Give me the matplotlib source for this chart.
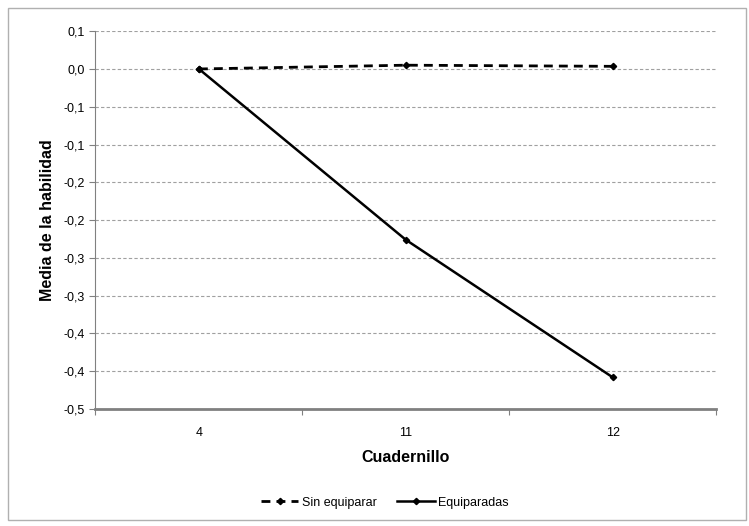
import math
import matplotlib
matplotlib.use("Agg")
import matplotlib.pyplot as plt
import numpy as np
from matplotlib.patches import Rectangle
from matplotlib.ticker import FuncFormatter

plt.rcParams['font.family'] = ['Liberation Sans', 'DejaVu Sans']

# Media de la habilidad por cuadernillo
cuadernillos = ["4", "11", "12"]
sin_equiparar = [0.000, 0.005, 0.0035]
equiparadas = [0.000, -0.226, -0.408]


def fmt_coma(v, pos):
    # redondeo a un decimal (mitad hacia fuera) y coma decimal
    r = math.copysign(math.floor(abs(v) * 10 + 0.5 + 1e-9) / 10, v)
    if abs(r) < 1e-12:
        r = 0.0
    return f"{r:.1f}".replace(".", ",")


fig = plt.figure(figsize=(7.49, 5.26), dpi=100)
ax = fig.add_axes([0.1275, 0.2224, 0.8285, 0.7183])

x = np.arange(len(cuadernillos))
ax.plot(x, sin_equiparar, color="black", lw=2.0, ls=(0, (3.2, 2.2)),
        marker="D", ms=3.2, label="Sin equiparar")
ax.plot(x, equiparadas, color="black", lw=1.8, ls="-",
        marker="D", ms=3.2, label="Equiparadas")

ax.set_xlim(-0.5, 2.5)
ax.set_ylim(-0.45, 0.05)
ax.set_yticks(np.arange(-0.45, 0.0501, 0.05))
ax.yaxis.set_major_formatter(FuncFormatter(fmt_coma))
ax.grid(axis="y", color="#a0a0a0", ls=(0, (3, 2)), lw=0.8)
ax.set_axisbelow(True)

# marcas del eje x entre categorías, etiquetas en el centro
ax.set_xticks([-0.5, 0.5, 1.5, 2.5])
ax.set_xticklabels([])
ax.set_xticks(x, minor=True)
ax.set_xticklabels(cuadernillos, minor=True)
ax.tick_params(axis="x", which="minor", length=0, pad=13, labelsize=9)
ax.tick_params(axis="x", which="major", length=4, color="#808080", direction="out")
ax.tick_params(axis="y", length=4, color="#808080", labelsize=9, pad=4)

for s in ["top", "right"]:
    ax.spines[s].set_visible(False)
ax.spines["left"].set_color("#808080")
ax.spines["bottom"].set_color("#808080")
ax.spines["bottom"].set_linewidth(2.0)

ax.set_xlabel("Cuadernillo", fontsize=11.5, fontweight="bold", labelpad=8)
ax.set_ylabel("Media de la habilidad", fontsize=11.5, fontweight="bold", labelpad=6)

fig.legend(loc="center", bbox_to_anchor=(0.514, 0.044), ncol=2, frameon=False,
           fontsize=9, handlelength=3.0, columnspacing=1.6, handletextpad=0.3)

fig.patches.append(Rectangle((0.011, 0.011), 0.985, 0.973, transform=fig.transFigure,
                             fill=False, edgecolor="#b0b0b0", lw=1.0))

fig.savefig("out.png", dpi=100)
